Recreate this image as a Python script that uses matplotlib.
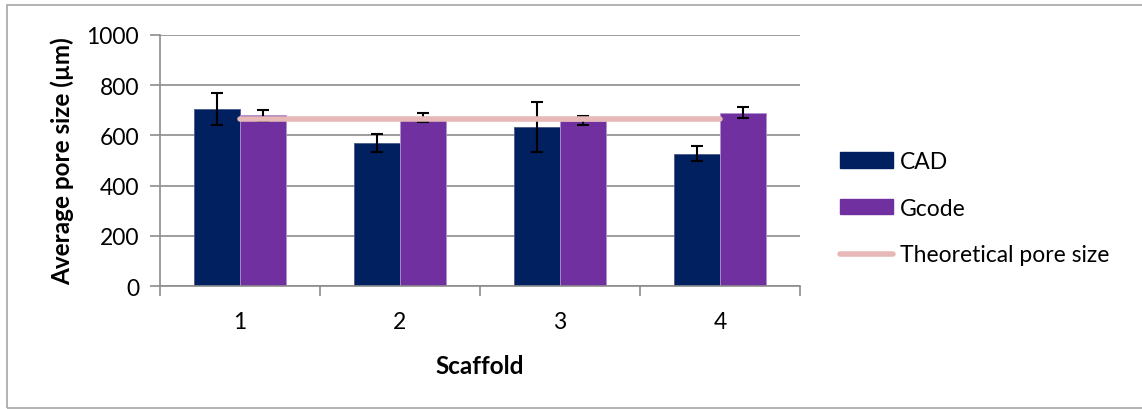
import matplotlib
matplotlib.use("Agg")
import matplotlib.pyplot as plt
from matplotlib.patches import Rectangle
from matplotlib.lines import Line2D
import numpy as np

plt.rcParams['font.family'] = ['Lato', 'DejaVu Sans']

scaffolds = ["1", "2", "3", "4"]
cad = [705, 570, 632, 527]
cad_err = [62, 36, 100, 30]
gcode = [680, 670, 658, 691]
gcode_err = [22, 18, 18, 22]
theoretical = [667, 667, 667, 667]
yticks = [0, 200, 400, 600, 800, 1000]

W, H = 1142, 410
fig = plt.figure(figsize=(W / 100, H / 100), dpi=100)

# outer chart frame (right edge runs past the canvas)
fig.add_artist(Rectangle((7 / W, 1 - 409 / H), 1.2, (409 - 6) / H,
                         transform=fig.transFigure, fill=False,
                         edgecolor="#a6a6a6", linewidth=1.2))

ax = fig.add_axes([160 / W, (H - 287) / H, 640 / W, 251 / H])

x = np.arange(1, len(scaffolds) + 1)
bw = 0.285
grid_c = "#8c8c8c"
tick_fs = 16.5
label_fs = 17.5

ax.bar(x - bw / 2, cad, bw, color="#002060", edgecolor="#4a5a8a",
       linewidth=0.6, zorder=2, label="CAD")
ax.bar(x + bw / 2, gcode, bw, color="#7030A0", edgecolor="#b090d0",
       linewidth=0.6, zorder=2, label="Gcode")
ax.errorbar(x - bw / 2, cad, yerr=cad_err, fmt="none", ecolor="black",
            elinewidth=1.5, capsize=4.5, capthick=1.5, zorder=3)
ax.errorbar(x + bw / 2, gcode, yerr=gcode_err, fmt="none", ecolor="black",
            elinewidth=1.5, capsize=4.5, capthick=1.5, zorder=3)
ax.plot(x, theoretical, color="#E6B9B8", linewidth=4,
        solid_capstyle="round", zorder=4, label="Theoretical pore size")

ax.set_xlim(0.5, 4.5)
ax.set_ylim(0, 1000)
ax.set_yticks(yticks)
ax.yaxis.grid(True, color=grid_c, linewidth=1.2, zorder=0)
ax.set_axisbelow(True)

ax.set_xticks(x)
ax.set_xticklabels(scaffolds)
ax.set_xticks(np.arange(0.5, 5.0, 1.0), minor=True)
ax.tick_params(axis="x", which="major", length=0, labelsize=tick_fs, pad=18)
ax.tick_params(axis="x", which="minor", length=7, width=1.2, color=grid_c,
               direction="out")
ax.tick_params(axis="y", length=7, width=1.2, color=grid_c,
               labelsize=tick_fs, pad=8, direction="out")

for side in ("top", "right"):
    ax.spines[side].set_visible(False)
for side in ("left", "bottom"):
    ax.spines[side].set_color(grid_c)
    ax.spines[side].set_linewidth(1.2)

ax.set_ylabel("Average pore size (µm)", fontsize=label_fs, fontweight="bold",
              labelpad=9)
ax.set_xlabel("Scaffold", fontsize=label_fs, fontweight="bold", labelpad=16)

handles = [
    Rectangle((0, 0), 1, 1, color="#002060"),
    Rectangle((0, 0), 1, 1, color="#7030A0"),
    Line2D([0], [0], color="#E6B9B8", linewidth=4, solid_capstyle="round"),
]
fig.legend(handles, ["CAD", "Gcode", "Theoretical pore size"],
           loc="upper left", bbox_to_anchor=(831 / W, 1 - 143 / H),
           frameon=False, fontsize=tick_fs, handlelength=2.3, handleheight=0.65,
           handletextpad=0.3, labelspacing=1.12, borderaxespad=0)

fig.savefig("out.png", dpi=100)
